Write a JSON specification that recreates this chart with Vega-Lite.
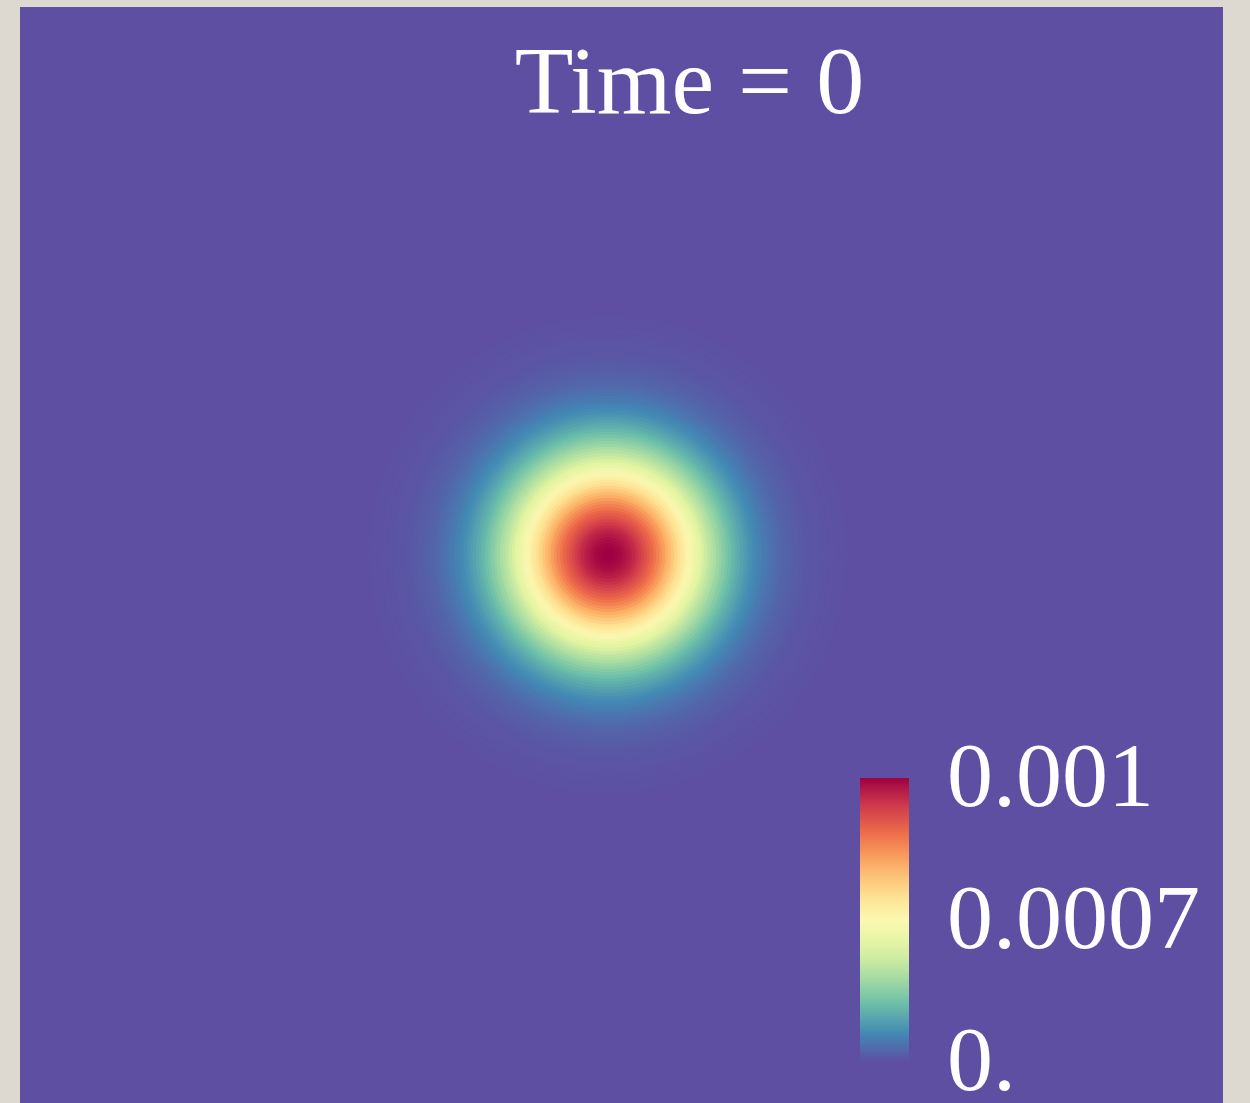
{
  "$schema": "https://vega.github.io/schema/vega-lite/v6.json",
  "autosize": {"type": "none"},
  "padding": {"left": 20, "top": 7, "right": 27, "bottom": 0},
  "width": 1203,
  "height": 1096,
  "background": "#ddd9d1",
  "title": {
    "text": "Time = 0",
    "anchor": "middle",
    "frame": "group",
    "offset": -202,
    "dx": 68,
    "baseline": "alphabetic",
    "font": "Liberation Serif",
    "fontSize": 96,
    "fontWeight": "normal",
    "color": "#ffffff"
  },
  "config": {
    "view": {"fill": "#5e4fa2", "stroke": null}
  },
  "data": {
    "values": [
      {"cx": -0.112, "cy": 0, "r": 2.000, "v": 0.0000447},
      {"cx": -0.112, "cy": 0, "r": 1.975, "v": 0.0000483},
      {"cx": -0.112, "cy": 0, "r": 1.950, "v": 0.0000521},
      {"cx": -0.112, "cy": 0, "r": 1.925, "v": 0.0000562},
      {"cx": -0.112, "cy": 0, "r": 1.900, "v": 0.0000606},
      {"cx": -0.112, "cy": 0, "r": 1.875, "v": 0.0000653},
      {"cx": -0.112, "cy": 0, "r": 1.850, "v": 0.0000702},
      {"cx": -0.112, "cy": 0, "r": 1.825, "v": 0.0000754},
      {"cx": -0.112, "cy": 0, "r": 1.800, "v": 0.0000809},
      {"cx": -0.112, "cy": 0, "r": 1.775, "v": 0.0000868},
      {"cx": -0.112, "cy": 0, "r": 1.750, "v": 0.0000930},
      {"cx": -0.112, "cy": 0, "r": 1.725, "v": 0.0000995},
      {"cx": -0.112, "cy": 0, "r": 1.700, "v": 0.000106},
      {"cx": -0.112, "cy": 0, "r": 1.675, "v": 0.000114},
      {"cx": -0.112, "cy": 0, "r": 1.650, "v": 0.000121},
      {"cx": -0.112, "cy": 0, "r": 1.625, "v": 0.000129},
      {"cx": -0.112, "cy": 0, "r": 1.600, "v": 0.000138},
      {"cx": -0.112, "cy": 0, "r": 1.575, "v": 0.000146},
      {"cx": -0.112, "cy": 0, "r": 1.550, "v": 0.000156},
      {"cx": -0.112, "cy": 0, "r": 1.525, "v": 0.000165},
      {"cx": -0.112, "cy": 0, "r": 1.500, "v": 0.000175},
      {"cx": -0.112, "cy": 0, "r": 1.475, "v": 0.000186},
      {"cx": -0.112, "cy": 0, "r": 1.450, "v": 0.000197},
      {"cx": -0.112, "cy": 0, "r": 1.425, "v": 0.000208},
      {"cx": -0.112, "cy": 0, "r": 1.400, "v": 0.000220},
      {"cx": -0.112, "cy": 0, "r": 1.375, "v": 0.000232},
      {"cx": -0.112, "cy": 0, "r": 1.350, "v": 0.000245},
      {"cx": -0.112, "cy": 0, "r": 1.325, "v": 0.000258},
      {"cx": -0.112, "cy": 0, "r": 1.300, "v": 0.000271},
      {"cx": -0.112, "cy": 0, "r": 1.275, "v": 0.000285},
      {"cx": -0.112, "cy": 0, "r": 1.250, "v": 0.000300},
      {"cx": -0.112, "cy": 0, "r": 1.225, "v": 0.000314},
      {"cx": -0.112, "cy": 0, "r": 1.200, "v": 0.000330},
      {"cx": -0.112, "cy": 0, "r": 1.175, "v": 0.000345},
      {"cx": -0.112, "cy": 0, "r": 1.150, "v": 0.000361},
      {"cx": -0.112, "cy": 0, "r": 1.125, "v": 0.000378},
      {"cx": -0.112, "cy": 0, "r": 1.100, "v": 0.000394},
      {"cx": -0.112, "cy": 0, "r": 1.075, "v": 0.000411},
      {"cx": -0.112, "cy": 0, "r": 1.050, "v": 0.000429},
      {"cx": -0.112, "cy": 0, "r": 1.025, "v": 0.000446},
      {"cx": -0.112, "cy": 0, "r": 1.000, "v": 0.000464},
      {"cx": -0.112, "cy": 0, "r": 0.975, "v": 0.000482},
      {"cx": -0.112, "cy": 0, "r": 0.950, "v": 0.000501},
      {"cx": -0.112, "cy": 0, "r": 0.925, "v": 0.000519},
      {"cx": -0.112, "cy": 0, "r": 0.900, "v": 0.000538},
      {"cx": -0.112, "cy": 0, "r": 0.875, "v": 0.000557},
      {"cx": -0.112, "cy": 0, "r": 0.850, "v": 0.000576},
      {"cx": -0.112, "cy": 0, "r": 0.825, "v": 0.000595},
      {"cx": -0.112, "cy": 0, "r": 0.800, "v": 0.000614},
      {"cx": -0.112, "cy": 0, "r": 0.775, "v": 0.000633},
      {"cx": -0.112, "cy": 0, "r": 0.750, "v": 0.000652},
      {"cx": -0.112, "cy": 0, "r": 0.725, "v": 0.000671},
      {"cx": -0.112, "cy": 0, "r": 0.700, "v": 0.000689},
      {"cx": -0.112, "cy": 0, "r": 0.675, "v": 0.000708},
      {"cx": -0.112, "cy": 0, "r": 0.650, "v": 0.000726},
      {"cx": -0.112, "cy": 0, "r": 0.625, "v": 0.000744},
      {"cx": -0.112, "cy": 0, "r": 0.600, "v": 0.000762},
      {"cx": -0.112, "cy": 0, "r": 0.575, "v": 0.000780},
      {"cx": -0.112, "cy": 0, "r": 0.550, "v": 0.000797},
      {"cx": -0.112, "cy": 0, "r": 0.525, "v": 0.000813},
      {"cx": -0.112, "cy": 0, "r": 0.500, "v": 0.000829},
      {"cx": -0.112, "cy": 0, "r": 0.475, "v": 0.000845},
      {"cx": -0.112, "cy": 0, "r": 0.450, "v": 0.000860},
      {"cx": -0.112, "cy": 0, "r": 0.425, "v": 0.000875},
      {"cx": -0.112, "cy": 0, "r": 0.400, "v": 0.000889},
      {"cx": -0.112, "cy": 0, "r": 0.375, "v": 0.000902},
      {"cx": -0.112, "cy": 0, "r": 0.350, "v": 0.000914},
      {"cx": -0.112, "cy": 0, "r": 0.325, "v": 0.000926},
      {"cx": -0.112, "cy": 0, "r": 0.300, "v": 0.000937},
      {"cx": -0.112, "cy": 0, "r": 0.275, "v": 0.000947},
      {"cx": -0.112, "cy": 0, "r": 0.250, "v": 0.000957},
      {"cx": -0.112, "cy": 0, "r": 0.225, "v": 0.000965},
      {"cx": -0.112, "cy": 0, "r": 0.200, "v": 0.000973},
      {"cx": -0.112, "cy": 0, "r": 0.175, "v": 0.000979},
      {"cx": -0.112, "cy": 0, "r": 0.150, "v": 0.000985},
      {"cx": -0.112, "cy": 0, "r": 0.125, "v": 0.000990},
      {"cx": -0.112, "cy": 0, "r": 0.100, "v": 0.000994},
      {"cx": -0.112, "cy": 0, "r": 0.075, "v": 0.000997},
      {"cx": -0.112, "cy": 0, "r": 0.050, "v": 0.000999},
      {"cx": -0.112, "cy": 0, "r": 0.025, "v": 0.001000}
    ]
  },
  "mark": {"type": "arc", "theta": 0, "theta2": 6.2832, "strokeWidth": 0},
  "encoding": {
    "x": {"field": "cx", "type": "quantitative", "scale": {"domain": [-5, 5], "nice": false, "zero": false}, "axis": null},
    "y": {"field": "cy", "type": "quantitative", "scale": {"domain": [-4.555, 4.555], "nice": false, "zero": false}, "axis": null},
    "radius": {"field": "r", "type": "quantitative", "stack": null, "scale": {"type": "linear", "domain": [0, 5], "range": [0, 601.5], "zero": true}},
    "color": {
      "field": "v",
      "type": "quantitative",
      "scale": {"type": "pow", "exponent": 1.943, "domain": [0, 0.001], "scheme": "spectral", "reverse": true},
      "legend": {
        "orient": "none",
        "legendX": 840,
        "legendY": 771,
        "direction": "vertical",
        "title": null,
        "padding": 0,
        "values": [0, 0.0007, 0.001],
        "format": ".4~f",
        "labelExpr": "datum.value === 0 ? '0.' : datum.label",
        "gradientLength": 284,
        "gradientThickness": 49,
        "gradientStrokeWidth": 0,
        "labelFont": "Liberation Serif",
        "labelFontSize": 92,
        "labelColor": "#ffffff",
        "labelOffset": 38,
        "labelLimit": 0,
        "labelOverlap": false,
        "encode": {
          "labels": {"update": {"baseline": {"value": "middle"}}}
        }
      }
    }
  }
}
